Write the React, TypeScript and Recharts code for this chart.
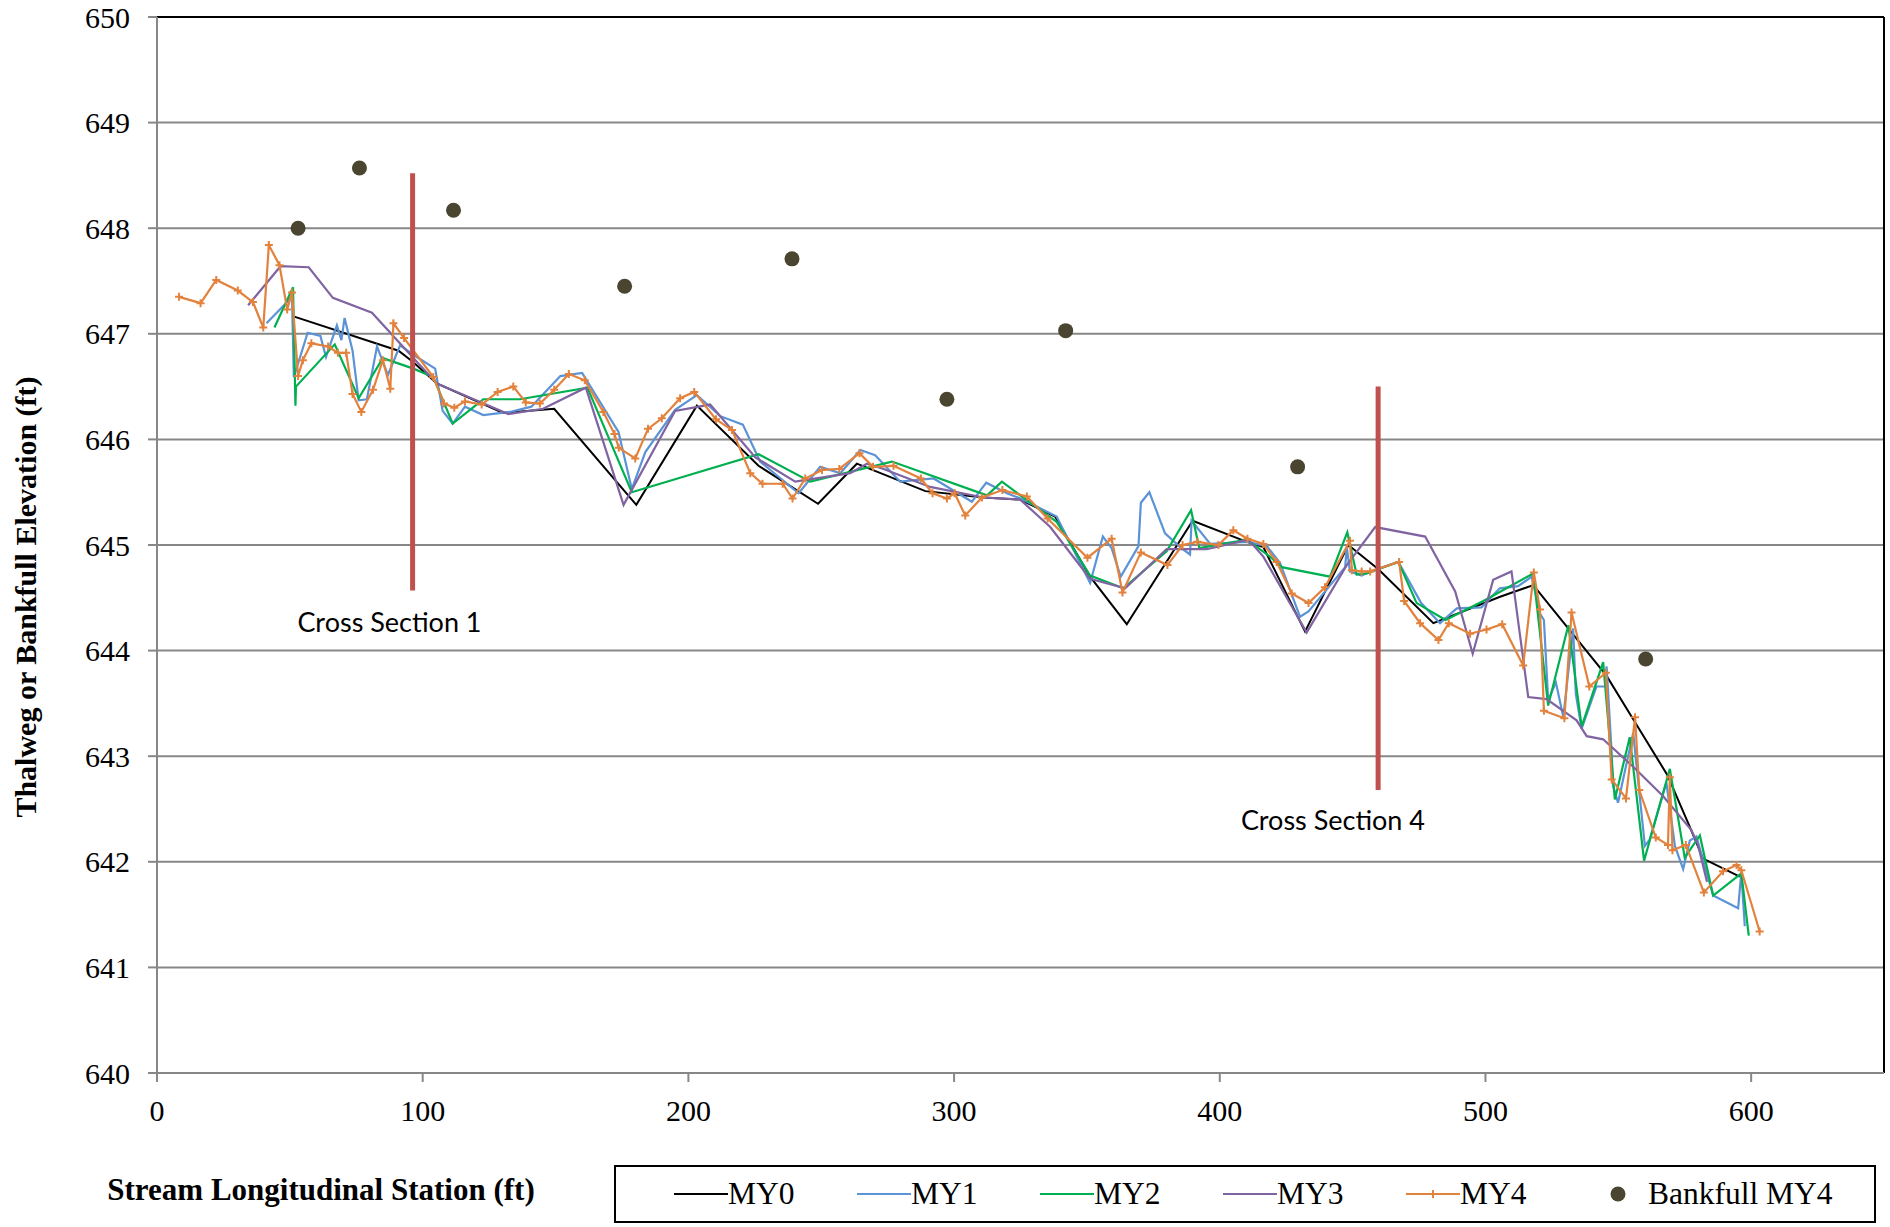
import React from 'react'
import { ComposedChart, Line, Scatter, XAxis, YAxis, CartesianGrid, ReferenceLine, ReferenceDot } from 'recharts'

// axis ticks
const xTicks = [0, 100, 200, 300, 400, 500, 600]
const yTicks = [640, 641, 642, 643, 644, 645, 646, 647, 648, 649, 650]

// MY0 thalweg survey
const my0Station = [50.8, 90.9, 96.5, 105.3, 130.3, 149.5, 180.4, 203.2, 226.4, 248.8, 263.4, 289.2, 311.1, 324.9, 338, 351.2, 365, 389.8, 410.2, 416.4, 432.1, 448.4, 459.7, 480.4, 505.5, 518, 545.6, 555.6, 568.5, 576.9, 581.9, 595.7]
const my0Elev = [647.17, 646.84, 646.73, 646.53, 646.25, 646.29, 645.38, 646.32, 645.75, 645.39, 645.77, 645.51, 645.45, 645.43, 645.27, 644.7, 644.25, 645.23, 645.03, 644.98, 644.18, 645.0, 644.77, 644.26, 644.51, 644.62, 643.76, 643.35, 642.82, 642.33, 642.03, 641.86]

// MY1
const my1Station = [41.2, 49.0, 50.8, 51.5, 56.7, 61.5, 63.6, 67.7, 69.4, 70.6, 73.6, 75.9, 79.0, 82.8, 86.9, 91.5, 97.8, 104.7, 107.5, 111.3, 115.9, 122.8, 132.8, 140.9, 151.8, 160, 173.7, 178.7, 183.8, 195, 203.2, 212, 220.5, 227, 241.5, 249.6, 257.2, 264.7, 270.3, 279.7, 292.3, 306.7, 312.1, 319.9, 325, 338.6, 351.2, 356, 359.3, 362.7, 369.4, 370.3, 373.5, 379.4, 385.1, 388.8, 389.4, 396.4, 410.2, 417.7, 422.7, 430.2, 433.4, 447.2, 447.8, 449, 453.4, 456.6, 467.2, 475.8, 482.9, 489.2, 498.5, 505.4, 512.3, 517.4, 520.5, 522, 523.6, 526.5, 529.3, 533, 534, 536.2, 541.8, 545, 545.6, 547.5, 548, 549.9, 555.6, 560, 561.8, 568.1, 571.3, 574.4, 576.9, 579.4, 585.7, 595.1, 596.3, 597.6]
const my1Elev = [647.1, 647.3, 647.36, 646.59, 647.01, 646.98, 646.78, 647.08, 646.94, 647.15, 646.84, 646.37, 646.38, 646.88, 646.61, 646.89, 646.78, 646.67, 646.27, 646.15, 646.31, 646.23, 646.26, 646.31, 646.6, 646.63, 646.07, 645.53, 645.88, 646.28, 646.42, 646.22, 646.14, 645.79, 645.49, 645.74, 645.68, 645.9, 645.85, 645.6, 645.63, 645.41, 645.59, 645.49, 645.44, 645.27, 644.64, 645.08, 644.97, 644.7, 644.99, 645.4, 645.5, 645.11, 644.98, 644.91, 645.23, 645.01, 645.03, 644.99, 644.83, 644.32, 644.37, 644.79, 644.98, 644.75, 644.71, 644.75, 644.84, 644.45, 644.26, 644.4, 644.41, 644.59, 644.61, 644.7, 644.35, 644.29, 643.53, 643.7, 643.37, 644.21, 643.59, 643.26, 643.66, 643.66, 643.85, 643.03, 642.72, 642.56, 643.22, 642.15, 642.21, 642.75, 642.15, 641.93, 642.2, 642.24, 641.68, 641.56, 641.9, 641.39]

// MY2
const my2Station = [44.2, 51.2, 52.1, 52.3, 66.9, 75.9, 85.0, 96.5, 104, 111.3, 122.8, 136.6, 162, 178.7, 226.4, 245.9, 276.6, 312.4, 318, 324.9, 338.6, 351.2, 363.7, 380, 389.2, 392.3, 410.2, 418.9, 423.3, 441.5, 448.0, 451.5, 455.3, 467.2, 474.1, 485, 499.2, 518, 523.6, 531.2, 536.2, 544.3, 548.7, 554.3, 559.7, 569.4, 575, 580.7, 585.7, 596.3, 599.1]
const my2Elev = [647.06, 647.44, 646.32, 646.5, 646.9, 646.39, 646.77, 646.67, 646.59, 646.15, 646.38, 646.38, 646.49, 645.5, 645.86, 645.6, 645.79, 645.47, 645.6, 645.47, 645.22, 644.71, 644.59, 644.94, 645.33, 644.97, 645.05, 644.89, 644.79, 644.7, 645.12, 644.72, 644.73, 644.84, 644.45, 644.29, 644.47, 644.73, 643.48, 644.24, 643.28, 643.89, 642.59, 643.18, 642.01, 642.88, 642.04, 642.25, 641.68, 641.89, 641.3]

// MY3
const my3Station = [34.3, 46.5, 57.1, 66.2, 80.9, 94, 105.3, 132.2, 145.3, 161.4, 175.6, 195, 208.2, 225.2, 240.2, 260.9, 267.2, 273.5, 291, 311.1, 324.9, 336.2, 351.2, 364.4, 380, 395.1, 410.8, 416.4, 432.7, 447.8, 458.5, 477.3, 488.6, 495.2, 502.9, 509.8, 516.1, 523, 534.3, 538.1, 544.3, 555.6, 566.9, 577.5, 580, 583.4]
const my3Elev = [647.27, 647.64, 647.63, 647.34, 647.2, 646.84, 646.53, 646.24, 646.29, 646.49, 645.38, 646.27, 646.33, 645.83, 645.6, 645.68, 645.77, 645.72, 645.55, 645.45, 645.43, 645.17, 644.68, 644.59, 644.96, 644.96, 645.05, 644.89, 644.17, 644.81, 645.17, 645.08, 644.56, 643.97, 644.67, 644.75, 643.56, 643.54, 643.34, 643.19, 643.16, 642.9, 642.62, 642.3, 642.16, 641.81]

// MY4
const my4Station = [8.3, 16.4, 22.3, 30.4, 36.1, 40, 42.1, 46.1, 49, 50.8, 53.1, 54.9, 58.1, 64.4, 68.1, 71.2, 73.6, 76.9, 81.3, 85, 87.8, 89, 93, 104, 108, 111.9, 115.9, 122.2, 128.2, 134.1, 138.8, 144.1, 149.5, 155, 161, 168, 172.2, 173.8, 180, 184.8, 190, 196.9, 202.2, 210.4, 216.4, 223.3, 227.9, 235.5, 239.2, 244, 250.3, 256.8, 264.4, 269.5, 277.2, 287.5, 291.9, 297.3, 300.2, 304.2, 310.5, 318.2, 327.4, 335.2, 350.2, 359.3, 363.4, 370.3, 380.3, 386, 391.6, 399.5, 405.1, 410.4, 416.4, 421.4, 427.1, 433.4, 439.6, 449, 449.7, 453.4, 456.6, 467.5, 469.4, 475.4, 482.3, 486.2, 494.2, 500.4, 506.3, 514.2, 518.2, 520.5, 522, 529.7, 532.4, 539.1, 545.3, 547.5, 552.9, 556.3, 557.9, 564.1, 568.7, 569.4, 570.4, 575.4, 582.2, 589.4, 594.5, 596.3, 603.2]
const my4Elev = [647.35, 647.29, 647.51, 647.41, 647.3, 647.06, 647.84, 647.65, 647.23, 647.39, 646.6, 646.75, 646.91, 646.88, 646.82, 646.82, 646.43, 646.26, 646.47, 646.75, 646.48, 647.1, 646.96, 646.59, 646.34, 646.3, 646.36, 646.33, 646.45, 646.5, 646.35, 646.34, 646.47, 646.62, 646.56, 646.26, 646.05, 645.92, 645.82, 646.1, 646.2, 646.39, 646.45, 646.19, 646.09, 645.68, 645.58, 645.58, 645.44, 645.63, 645.71, 645.72, 645.87, 645.74, 645.75, 645.63, 645.49, 645.44, 645.49, 645.28, 645.45, 645.52, 645.46, 645.25, 644.88, 645.06, 644.55, 644.93, 644.81, 645.0, 645.03, 645.0, 645.14, 645.06, 645.01, 644.84, 644.54, 644.45, 644.6, 645.04, 644.76, 644.75, 644.75, 644.84, 644.47, 644.26, 644.1, 644.26, 644.16, 644.2, 644.25, 643.86, 644.74, 644.39, 643.43, 643.36, 644.36, 643.66, 643.79, 642.78, 642.6, 643.37, 642.68, 642.23, 642.16, 642.8, 642.11, 642.16, 641.71, 641.91, 641.97, 641.92, 641.34]

// Bankfull MY4
const bankStation = [53.1, 76.2, 111.6, 176, 239, 297.3, 342, 429.3, 560.3]
const bankElev = [648.0, 648.57, 648.17, 647.45, 647.71, 646.38, 647.03, 645.74, 643.92]

// cross section markers
const xsNames = ['Cross Section 1', 'Cross Section 4']
const xsStation = [96.2, 459.6]
const xsTop = [648.52, 646.5]
const xsBottom = [644.57, 642.68]
const xsLabelStation = [87.5, 442.6]
const xsLabelElev = [644.27, 642.39]

const toPoints = (xs: number[], ys: number[]) => xs.map((x, i) => ({ x, y: ys[i] }))

const C = {
  my0: '#000000',
  my1: '#5b93d6',
  my2: '#00b050',
  my3: '#8064a2',
  my4: '#e3823d',
  bank: '#4a4530',
  xs: '#c0504d',
  grid: '#878787',
}

const serif = '"Liberation Serif", "Times New Roman", serif'

const series = [
  { name: 'MY0', color: C.my0, data: toPoints(my0Station, my0Elev) },
  { name: 'MY1', color: C.my1, data: toPoints(my1Station, my1Elev) },
  { name: 'MY2', color: C.my2, data: toPoints(my2Station, my2Elev) },
  { name: 'MY3', color: C.my3, data: toPoints(my3Station, my3Elev) },
  { name: 'MY4', color: C.my4, data: toPoints(my4Station, my4Elev) },
]

function PlusDot(props: any) {
  const { cx, cy } = props
  if (cx == null || cy == null) return null
  return <path d={`M${cx - 4},${cy}h8M${cx},${cy - 4}v8`} stroke={C.my4} strokeWidth={2} fill="none" />
}

function XTick(props: any) {
  const { x, y, payload } = props
  return (
    <text x={x} y={y} dy="0.71em" textAnchor="middle" fill="#000" fontSize={30} style={{ fontFamily: serif }}>
      {payload.value}
    </text>
  )
}

function YTick(props: any) {
  const { x, y, payload } = props
  return (
    <text x={x} y={y} dy="0.355em" textAnchor="end" fill="#000" fontSize={30} style={{ fontFamily: serif }}>
      {payload.value}
    </text>
  )
}

function LegendBox() {
  return (
    <div style={{
      position: 'absolute', left: 614, top: 1165, width: 1262, height: 58,
      border: '2px solid #000', boxSizing: 'border-box', fontFamily: serif, fontSize: 31.5,
    }}>
      {series.map((s, i) => (
        <div key={s.name} style={{ position: 'absolute', left: 58 + i * 183, top: 7, display: 'flex', alignItems: 'center', height: 40 }}>
          <svg width={54} height={12}>
            <line x1={0} y1={6} x2={54} y2={6} stroke={s.color} strokeWidth={2} />
            {s.name === 'MY4' && <path d="M27,2v8M23,6h8" stroke={s.color} strokeWidth={2} />}
          </svg>
          <span>{s.name}</span>
        </div>
      ))}
      <div style={{ position: 'absolute', left: 994, top: 7, display: 'flex', alignItems: 'center', height: 40 }}>
        <svg width={38} height={20}>
          <circle cx={8} cy={10} r={7.5} fill={C.bank} />
        </svg>
        <span>Bankfull MY4</span>
      </div>
    </div>
  )
}

export default function App() {
  return (
    <div style={{ position: 'absolute', left: 0, top: 0, width: 1890, height: 1227, background: '#fff' }}>
      <ComposedChart width={1890} height={1227} margin={{ top: 17, right: 6, left: 0, bottom: 94 }}>
        <CartesianGrid vertical={false} stroke={C.grid} strokeWidth={2} />
        <XAxis
          type="number" dataKey="x" domain={[0, 650]} ticks={xTicks} height={60}
          stroke={C.grid} strokeWidth={2} tickSize={9} tickMargin={18}
          tick={<XTick />}
        />
        <YAxis
          type="number" dataKey="y" domain={[640, 650]} ticks={yTicks} width={157}
          stroke={C.grid} strokeWidth={2} tickSize={9} tickMargin={18}
          tick={<YTick />}
        />
        <ReferenceLine y={650} stroke="#000" strokeWidth={2} />
        <ReferenceLine x={650} stroke="#000" strokeWidth={2} />
        {series.map(s => (
          <Line
            key={s.name} data={s.data} dataKey="y" name={s.name} type="linear"
            stroke={s.color} strokeWidth={s.name === 'MY0' ? 2 : 2.2}
            dot={s.name === 'MY4' ? ((p: any) => <PlusDot key={p.index} {...p} />) : false}
            activeDot={false} isAnimationActive={false}
          />
        ))}
        <Scatter
          data={toPoints(bankStation, bankElev)} dataKey="y" name="Bankfull MY4" isAnimationActive={false}
          shape={(p: any) => <circle cx={p.cx} cy={p.cy} r={7.5} fill={C.bank} />}
        />
        {xsStation.map((x, i) => (
          <ReferenceLine
            key={xsNames[i]}
            segment={[{ x, y: xsTop[i] }, { x, y: xsBottom[i] }]}
            stroke={C.xs} strokeWidth={5}
          />
        ))}
        {xsNames.map((n, i) => (
          <ReferenceDot
            key={n + '-label'} x={xsLabelStation[i]} y={xsLabelElev[i]} r={0} stroke="none" fill="none"
            label={{ value: n, position: 'center', fill: '#000', fontSize: 27, fontFamily: 'Lato, "Open Sans", sans-serif' }}
          />
        ))}
      </ComposedChart>
      <div style={{
        position: 'absolute', left: 26, top: 597, transform: 'translate(-50%, -50%) rotate(-90deg)',
        whiteSpace: 'nowrap', fontFamily: serif, fontWeight: 'bold', fontSize: 30,
      }}>
        Thalweg or Bankfull Elevation (ft)
      </div>
      <div style={{
        position: 'absolute', left: 321, top: 1190, transform: 'translate(-50%, -50%)',
        whiteSpace: 'nowrap', fontFamily: serif, fontWeight: 'bold', fontSize: 31,
      }}>
        Stream Longitudinal Station (ft)
      </div>
      <LegendBox />
    </div>
  )
}
